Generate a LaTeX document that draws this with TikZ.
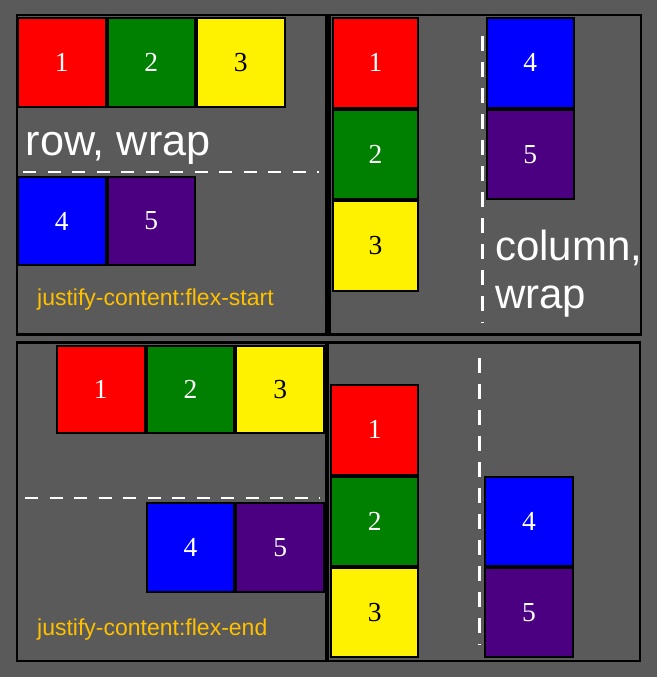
\documentclass[tikz,border=0pt]{standalone}
\usepackage{fontspec}
\setmainfont{Liberation Serif}
\newfontfamily\lsans{Liberation Sans}
\definecolor{bg}{HTML}{5A5A5A}
\definecolor{indig}{HTML}{4B0082}
\definecolor{gold}{HTML}{FFC000}
\definecolor{flexgreen}{HTML}{008000}
\begin{document}
\begin{tikzpicture}[x=1pt,y=-1pt,
 item/.style={draw=black, line width=2pt, inner sep=0pt, outer sep=0pt, text=white, font=\fontsize{27.5}{30}\selectfont},
 panel/.style={draw=black, line width=2pt},
 hwrap/.style={draw=white, line width=2pt, dash pattern=on 13pt off 11.5pt},
 vwrap/.style={draw=white, line width=2.5pt, dash pattern=on 15pt off 11pt},
 lbl/.style={anchor=base west, inner sep=0pt, text=white, font=\lsans\fontsize{42}{48}\selectfont},
 jc/.style={anchor=base west, inner sep=0pt, text=gold, font=\lsans\fontsize{23}{26}\selectfont}]
\fill[bg] (0,0) rectangle (657,677);
\useasboundingbox (0,0) rectangle (657,677);
% panels
\draw[panel] (17,15.5) rectangle (326,334);
\draw[panel] (328,15.5) rectangle (641,334);
\draw[black, line width=4pt] (329,14.5) -- (329,335);
\draw[black, line width=3.6pt] (16,334.5) -- (642,334.5);
\draw[panel, line width=2.2pt] (17,342.5) rectangle (326,661);
\draw[panel, line width=2.2pt] (328,342.5) rectangle (640,661);
% top-left: row, wrap, flex-start
\node[item, fill=red, minimum width=87.5pt, minimum height=89pt] (a1) at (61.75,62.5) {1};
\node[item, fill=flexgreen, minimum width=87.5pt, minimum height=89pt] (a2) at (151.25,62.5) {2};
\node[item, fill=yellow, text=black, minimum width=87.5pt, minimum height=89pt] (a3) at (240.75,62.5) {3};
\node[item, fill=blue, minimum width=87.5pt, minimum height=88pt] (a4) at (61.75,221) {4};
\node[item, fill=indig, minimum width=87.5pt, minimum height=88pt] (a5) at (151.25,221) {5};
\draw[hwrap] (23,172) -- (319,172);
\node[lbl, font=\lsans\fontsize{43.2}{48}\selectfont] (t1) at (25.5,155) {row, wrap};
\node[jc] (j1) at (37,305) {justify-content:flex-start};
% top-right: column, wrap
\node[item, fill=red, minimum width=85.6pt, minimum height=89.5pt] (b1) at (375.5,62.75) {1};
\node[item, fill=flexgreen, minimum width=85.6pt, minimum height=89.5pt] (b2) at (375.5,154.25) {2};
\node[item, fill=yellow, text=black, minimum width=85.6pt, minimum height=89.5pt] (b3) at (375.5,245.75) {3};
\node[item, fill=blue, minimum width=87.3pt, minimum height=89.5pt] (b4) at (530.35,62.75) {4};
\node[item, fill=indig, minimum width=87.3pt, minimum height=89.5pt] (b5) at (530.35,154.25) {5};
\draw[vwrap] (482.3,36) -- (482.3,323);
\node[lbl] (t2) at (495,260) {column,};
\node[lbl] (t3) at (495,308) {wrap};
% bottom-left: row, flex-end
\node[item, fill=red, minimum width=87.7pt, minimum height=87.3pt] (c1) at (100.85,389.65) {1};
\node[item, fill=flexgreen, minimum width=87.7pt, minimum height=87.3pt] (c2) at (190.55,389.65) {2};
\node[item, fill=yellow, text=black, minimum width=87.7pt, minimum height=87.3pt] (c3) at (280.2,389.65) {3};
\node[item, fill=blue, minimum width=87.7pt, minimum height=89pt] (c4) at (190.55,547.2) {4};
\node[item, fill=indig, minimum width=87.7pt, minimum height=89pt] (c5) at (280.2,547.2) {5};
\draw[hwrap] (25,497.7) -- (320,497.7);
\node[jc] (j2) at (37,635) {justify-content:flex-end};
% bottom-right: column, flex-end
\node[item, fill=red, minimum width=87.3pt, minimum height=89.7pt] (d1) at (374.65,429.85) {1};
\node[item, fill=flexgreen, minimum width=87.3pt, minimum height=89.6pt] (d2) at (374.65,521.5) {2};
\node[item, fill=yellow, text=black, minimum width=87.3pt, minimum height=89pt] (d3) at (374.65,612.8) {3};
\node[item, fill=blue, minimum width=88pt, minimum height=89.6pt] (d4) at (529,521.5) {4};
\node[item, fill=indig, minimum width=88pt, minimum height=89pt] (d5) at (529,612.8) {5};
\draw[vwrap] (479.3,358) -- (479.3,645);
\end{tikzpicture}
\end{document}
